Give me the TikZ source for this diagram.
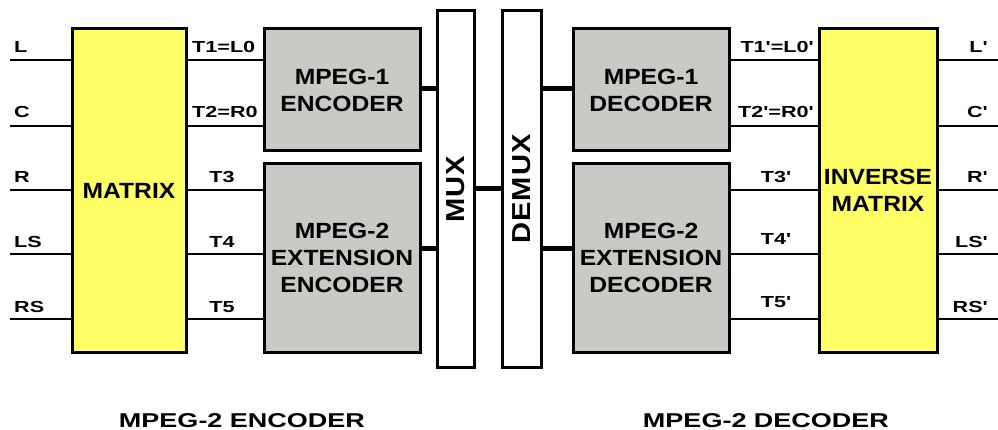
\documentclass[tikz,border=0pt]{standalone}
\usepackage{fontspec}
\setmainfont{Liberation Sans}[FakeStretch=1.12]
\newfontfamily\lblfont{Liberation Sans}[FakeStretch=1.35]
\definecolor{boxyellow}{RGB}{255,255,102}
\definecolor{boxgray}{RGB}{200,202,198}
\tikzset{
  blk/.style={draw=black, line width=3pt, inner sep=0pt, align=center,
    font=\bfseries\fontsize{22}{27}\selectfont},
  yel/.style={blk, fill=boxyellow},
  gry/.style={blk, fill=boxgray},
  bar/.style={draw=black, line width=3pt, fill=white, inner sep=0pt},
  sig/.style={line width=1.4pt},
  bus/.style={line width=5pt},
  lbl/.style={inner sep=0pt, font=\lblfont\bfseries\fontsize{16}{18}\selectfont},
  ttl/.style={inner sep=0pt, font=\lblfont\bfseries\fontsize{20}{22}\selectfont},
  rot/.style={inner sep=0pt, rotate=90, font=\bfseries\fontsize{26}{28}\selectfont}
}
\begin{document}
\begin{tikzpicture}[x=1pt,y=-1pt]
\useasboundingbox (0,0) rectangle (998,430);
% blocks
\node[yel, minimum width=114pt, minimum height=323pt] (mat) at (129,190.5) {MATRIX};
\node[gry, minimum width=156pt, minimum height=122pt] (enc1) at (342,90) {MPEG-1\\ENCODER};
\node[gry, minimum width=156pt, minimum height=188pt] (enc2) at (342,258) {MPEG-2\\EXTENSION\\ENCODER};
\node[bar, minimum width=37pt, minimum height=357pt] (mux) at (455.5,189) {};
\node[rot] (muxt) at (mux.center) {M\kern1pt U\kern1pt X};
\node[bar, minimum width=39pt, minimum height=357pt] (demux) at (521.5,189) {};
\node[rot] (demuxt) at (demux.center) {D\kern1pt E\kern1pt M\kern1pt U\kern1pt X};
\node[gry, minimum width=156pt, minimum height=122pt] (dec1) at (651,90) {MPEG-1\\DECODER};
\node[gry, minimum width=156pt, minimum height=188pt] (dec2) at (651,258) {MPEG-2\\EXTENSION\\DECODER};
\node[yel, minimum width=118pt, minimum height=323pt] (inv) at (878,190.5) {INVERSE\\MATRIX};
% signal rows
\coordinate (i0) at (10,60);
\coordinate (i1) at (10,126);
\coordinate (i2) at (10,190);
\coordinate (i3) at (10,254);
\coordinate (i4) at (10,319);
\coordinate (o0) at (998,60);
\coordinate (o1) at (998,126);
\coordinate (o2) at (998,190);
\coordinate (o3) at (998,254);
\coordinate (o4) at (998,319);
\foreach \k in {0,...,4}{
  \draw[sig] (i\k) -- (i\k -| mat.west);
  \draw[sig] (o\k -| inv.east) -- (o\k);
}
\draw[sig] (i0 -| mat.east) -- (i0 -| enc1.west);
\draw[sig] (i1 -| mat.east) -- (i1 -| enc1.west);
\draw[sig] (i2 -| mat.east) -- (i2 -| enc2.west);
\draw[sig] (i3 -| mat.east) -- (i3 -| enc2.west);
\draw[sig] (i4 -| mat.east) -- (i4 -| enc2.west);
\draw[sig] (o0 -| dec1.east) -- (o0 -| inv.west);
\draw[sig] (o1 -| dec1.east) -- (o1 -| inv.west);
\draw[sig] (o2 -| dec2.east) -- (o2 -| inv.west);
\draw[sig] (o3 -| dec2.east) -- (o3 -| inv.west);
\draw[sig] (o4 -| dec2.east) -- (o4 -| inv.west);
% buses
\coordinate (b1) at (0,89);
\coordinate (b2) at (0,249);
\coordinate (bm) at (0,189);
\draw[bus] (b1 -| enc1.east) -- (b1 -| mux.west);
\draw[bus] (b2 -| enc2.east) -- (b2 -| mux.west);
\draw[bus] (bm -| mux.east) -- (bm -| demux.west);
\draw[bus] (b1 -| demux.east) -- (b1 -| dec1.west);
\draw[bus] (b2 -| demux.east) -- (b2 -| dec2.west);
% input labels
\node[lbl, anchor=base west] (lL) at (14,53) {L};
\node[lbl, anchor=base west] (lC) at (14,118) {C};
\node[lbl, anchor=base west] (lR) at (14,183) {R};
\node[lbl, anchor=base west] (lLS) at (14,248) {LS};
\node[lbl, anchor=base west] (lRS) at (14,312) {RS};
% encoder side labels
\node[lbl, anchor=base west] (t1) at (192,53) {T1=L0};
\node[lbl, anchor=base west] (t2) at (192,118) {T2=R0};
\node[lbl, anchor=base] (t3) at (222,183) {T3};
\node[lbl, anchor=base] (t4) at (222,248) {T4};
\node[lbl, anchor=base] (t5) at (222,312) {T5};
% decoder side labels
\node[lbl, anchor=base east] (u1) at (814,53) {T1'=L0'};
\node[lbl, anchor=base east] (u2) at (814,118) {T2'=R0'};
\node[lbl, anchor=base] (u3) at (776,183) {T3'};
\node[lbl, anchor=base] (u4) at (776,245) {T4'};
\node[lbl, anchor=base] (u5) at (776,307) {T5'};
% output labels
\node[lbl, anchor=base east] (oL) at (988,53) {L'};
\node[lbl, anchor=base east] (oC) at (988,118) {C'};
\node[lbl, anchor=base east] (oR) at (988,183) {R'};
\node[lbl, anchor=base east] (oLS) at (988,248) {LS'};
\node[lbl, anchor=base east] (oRS) at (988,312) {RS'};
% titles
\node[ttl, anchor=base] (tenc) at (242,427) {MPEG-2 ENCODER};
\node[ttl, anchor=base] (tdec) at (766,427) {MPEG-2 DECODER};
\end{tikzpicture}
\end{document}
